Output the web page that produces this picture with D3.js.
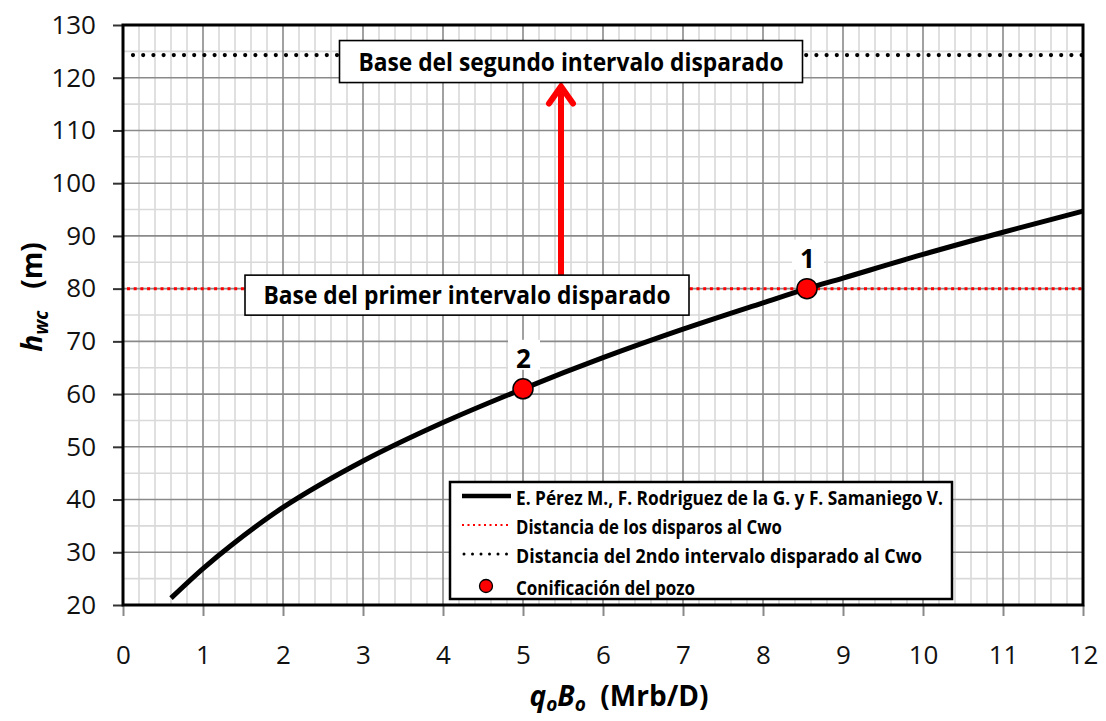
<!DOCTYPE html>
<html>
<head>
<meta charset="utf-8">
<script src="https://cdn.jsdelivr.net/npm/d3@7"></script>
<style>
  html, body { margin: 0; padding: 0; background: #fff; }
  svg { display: block; font-family: "Open Sans", "Noto Sans", sans-serif; }
</style>
</head>
<body>
<svg id="chart" width="1106" height="721"></svg>
<script>
// Water coning height vs. oil rate (qo·Bo)
const curveQ = [0.6, 1.0, 1.35, 2, 3, 4, 5, 6, 7, 8, 8.55, 9, 10, 11, 12];
const curveH = [21.3, 26.9, 31.3, 38.5, 47.3, 54.6, 61.0, 66.9, 72.3, 77.3, 80.0, 82.0, 86.5, 90.7, 94.7];

// Distances to the water-oil contact
const firstIntervalH = 80;
const secondIntervalH = 124.3;

// Coning points of the well
const wellQ = [8.55, 5.0];
const wellH = [80, 61];
const wellLabels = ["1", "2"];

// Axis ticks
const xTickValues = [0, 1, 2, 3, 4, 5, 6, 7, 8, 9, 10, 11, 12];
const yTickValues = [20, 30, 40, 50, 60, 70, 80, 90, 100, 110, 120, 130];

const legendLabels = [
  "E. Pérez M., F. Rodriguez de la G. y F. Samaniego V.",
  "Distancia de los disparos al Cwo",
  "Distancia del 2ndo intervalo disparado al Cwo",
  "Conificación del pozo"
];
const boxLabels = ["Base del segundo intervalo disparado", "Base del primer intervalo disparado"];

const svg = d3.select("#chart");
const L = 123, R = 1083, T = 25, B = 605;

const x = d3.scaleLinear().domain([0, 12]).range([L, R]);
const y = d3.scaleLinear().domain([20, 130]).range([B, T]);

// Grid: minor then major
const grid = svg.append("g");
const minorX = d3.range(0, 12.001, 0.2).filter(v => Math.abs(v - Math.round(v)) > 1e-6);
const minorY = d3.range(25, 130, 10);
grid.selectAll(".mx").data(minorX).join("line")
  .attr("x1", d => x(d)).attr("x2", d => x(d)).attr("y1", T).attr("y2", B)
  .attr("stroke", "#d9d9d9").attr("stroke-width", 1.6);
grid.selectAll(".my").data(minorY).join("line")
  .attr("x1", L).attr("x2", R).attr("y1", d => y(d)).attr("y2", d => y(d))
  .attr("stroke", "#d9d9d9").attr("stroke-width", 1.6);
grid.selectAll(".Mx").data(xTickValues).join("line")
  .attr("x1", d => x(d)).attr("x2", d => x(d)).attr("y1", T).attr("y2", B)
  .attr("stroke", "#8a8a8a").attr("stroke-width", 1.6);
grid.selectAll(".My").data(yTickValues).join("line")
  .attr("x1", L).attr("x2", R).attr("y1", d => y(d)).attr("y2", d => y(d))
  .attr("stroke", "#8a8a8a").attr("stroke-width", 1.6);

// Axes
const xAxis = svg.append("g").attr("transform", `translate(0,${B})`)
  .call(d3.axisBottom(x).tickValues(xTickValues).tickFormat(d3.format("d")).tickSize(11).tickPadding(30));
xAxis.select(".domain").remove();
xAxis.selectAll(".tick line").attr("stroke", "#8a8a8a").attr("stroke-width", 2);
xAxis.selectAll(".tick text").attr("font-size", 26).attr("fill", "#111").attr("font-family", "Open Sans");

const yAxis = svg.append("g").attr("transform", `translate(${L},0)`)
  .call(d3.axisLeft(y).tickValues(yTickValues).tickFormat(d3.format("d")).tickSize(10).tickPadding(17));
yAxis.select(".domain").remove();
yAxis.selectAll(".tick line").attr("stroke", "#333").attr("stroke-width", 2);
yAxis.selectAll(".tick text").attr("font-size", 26).attr("fill", "#111").attr("font-family", "Open Sans");

// Reference levels
svg.append("line")
  .attr("x1", x(0) + 4).attr("x2", x(12)).attr("y1", y(firstIntervalH)).attr("y2", y(firstIntervalH))
  .attr("stroke", "#ff0000").attr("stroke-width", 3).attr("stroke-dasharray", "3 3.7");
svg.append("line")
  .attr("x1", x(0) + 10).attr("x2", x(12)).attr("y1", y(secondIntervalH)).attr("y2", y(secondIntervalH))
  .attr("stroke", "#000").attr("stroke-width", 4.2).attr("stroke-linecap", "round").attr("stroke-dasharray", "0 10.2");

// Correlation curve
const line = d3.line().x(d => x(d[0])).y(d => y(d[1])).curve(d3.curveCatmullRom.alpha(0.5));
svg.append("path")
  .datum(curveQ.map((q, i) => [q, curveH[i]]))
  .attr("d", line).attr("fill", "none").attr("stroke", "#000")
  .attr("stroke-width", 5).attr("stroke-linecap", "butt");

// Arrow between the two interval bases
const arrowQ = 5.475;
const box1 = { cx: x(5.6), cy: y(secondIntervalH) + 6.5, w: 463, h: 42 };
const box2 = { cx: x(4.30), cy: y(firstIntervalH) + 6.5, w: 444, h: 40 };
const ax = x(arrowQ), aTop = box1.cy + box1.h / 2 + 1, aBot = box2.cy - box2.h / 2;
svg.append("line").attr("x1", ax).attr("x2", ax).attr("y1", aBot).attr("y2", aTop + 3)
  .attr("stroke", "#ff0000").attr("stroke-width", 6);
svg.append("path")
  .attr("d", `M${ax - 12},${aTop + 20} L${ax},${aTop + 3} L${ax + 12},${aTop + 20}`)
  .attr("fill", "none").attr("stroke", "#ff0000").attr("stroke-width", 6)
  .attr("stroke-linecap", "round").attr("stroke-linejoin", "miter");

// Annotation boxes
[box1, box2].forEach((b, i) => {
  svg.append("rect")
    .attr("x", b.cx - b.w / 2).attr("y", b.cy - b.h / 2).attr("width", b.w).attr("height", b.h)
    .attr("fill", "#fff").attr("stroke", "#000").attr("stroke-width", 1.6);
  svg.append("text")
    .attr("x", b.cx).attr("y", b.cy + 9)
    .attr("text-anchor", "middle").attr("font-weight", 700).attr("font-size", 25)
    .attr("textLength", i === 0 ? 425 : 407).attr("lengthAdjust", "spacingAndGlyphs")
    .text(boxLabels[i]);
});

// Coning points
const pts = svg.append("g");
wellQ.forEach((q, i) => {
  const px = x(q), py = y(wellH[i]);
  pts.append("rect").attr("x", px - 15).attr("y", py - 49).attr("width", 32).attr("height", 30).attr("fill", "#fff");
  pts.append("text").attr("x", px + 0.5).attr("y", py - 21)
    .attr("text-anchor", "middle").attr("font-weight", 700).attr("font-size", 26).text(wellLabels[i]);
  pts.append("circle").attr("cx", px).attr("cy", py).attr("r", 10)
    .attr("fill", "#ff0000").attr("stroke", "#000").attr("stroke-width", 1.5);
});

// Legend
const lg = svg.append("g");
lg.append("rect").attr("x", 450).attr("y", 482).attr("width", 502).attr("height", 117)
  .attr("fill", "#fff").attr("stroke", "#000").attr("stroke-width", 2.5);
const rowY = [496, 525, 554, 583];
const textW = [427, 266, 406, 179];
lg.append("line").attr("x1", 462).attr("x2", 511).attr("y1", rowY[0]).attr("y2", rowY[0])
  .attr("stroke", "#000").attr("stroke-width", 4.5);
lg.append("line").attr("x1", 462).attr("x2", 508).attr("y1", rowY[1]).attr("y2", rowY[1])
  .attr("stroke", "#ff0000").attr("stroke-width", 2).attr("stroke-dasharray", "2 3.5");
lg.append("line").attr("x1", 464).attr("x2", 508).attr("y1", rowY[2]).attr("y2", rowY[2])
  .attr("stroke", "#000").attr("stroke-width", 3).attr("stroke-linecap", "round").attr("stroke-dasharray", "0 8.5");
lg.append("circle").attr("cx", 486).attr("cy", rowY[3] + 3).attr("r", 6.5)
  .attr("fill", "#ff0000").attr("stroke", "#000").attr("stroke-width", 1.3);
legendLabels.forEach((t, i) => {
  lg.append("text").attr("x", 516).attr("y", rowY[i] + 9 + (i === 3 ? 3 : 0))
    .attr("font-weight", 700).attr("font-size", 20)
    .attr("textLength", textW[i]).attr("lengthAdjust", "spacingAndGlyphs").text(t);
});

// Plot frame
svg.append("rect").attr("x", L).attr("y", T).attr("width", R - L).attr("height", B - T)
  .attr("fill", "none").attr("stroke", "#000").attr("stroke-width", 3);

// Axis titles
const xt = svg.append("text").attr("x", 619).attr("y", 706).attr("text-anchor", "middle")
  .attr("font-weight", 700).attr("font-size", 28);
xt.append("tspan").attr("font-style", "italic").text("q");
xt.append("tspan").attr("font-style", "italic").attr("font-size", 19).attr("dy", 5).text("o");
xt.append("tspan").attr("font-style", "italic").attr("dy", -5).text("B");
xt.append("tspan").attr("font-style", "italic").attr("font-size", 19).attr("dy", 5).text("o");
xt.append("tspan").attr("dy", -5).text("\u00a0 (Mrb/D)");

const yt = svg.append("text").attr("transform", "translate(42,297) rotate(-90)")
  .attr("text-anchor", "middle").attr("font-weight", 700).attr("font-size", 28);
yt.append("tspan").attr("font-style", "italic").text("h");
yt.append("tspan").attr("font-style", "italic").attr("font-size", 19).attr("dy", 6).text("wc");
yt.append("tspan").attr("dy", -6).text("\u00a0\u00a0 (m)");
</script>
</body>
</html>
